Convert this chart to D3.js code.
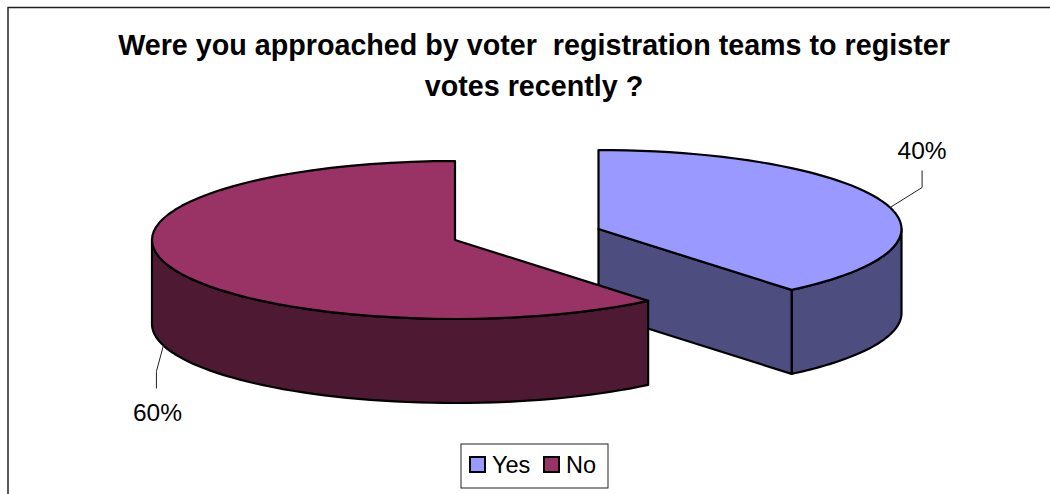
<!DOCTYPE html>
<html>
<head>
<meta charset="utf-8">
<script src="https://cdn.jsdelivr.net/npm/d3@7/dist/d3.min.js"></script>
<style>
  html, body { margin: 0; padding: 0; background: #fff; }
  svg { display: block; }
  text { font-family: "Liberation Sans", Arial, sans-serif; fill: #000; }
</style>
</head>
<body>
<svg id="chart" width="1050" height="494"></svg>
<script>
// Survey responses
const categories = ["Yes", "No"];
const shares = [40, 60];
const shareLabels = ["40%", "60%"];
const titleLines = [
  "Were you approached by voter  registration teams to register",
  "votes recently ?"
];

const topColors = ["#9999FF", "#993366"];
const sideColors = ["#4D4D80", "#4D1933"];

const svg = d3.select("#chart");

// Disc proportions of the tilted pie
const rx = 303, ry = 79, depth = 84;
const tilt = 0.066;            // foreshortening of angles on the tilted plane
const centers = [[598.5, 229], [455, 240]];  // each slice is pulled away from the other

// Chart frame, open on the right
svg.append("path")
  .attr("d", "M8,494V7.5H1050")
  .attr("fill", "none").attr("stroke", "#222").attr("stroke-width", 1.5);

// Title
svg.append("g").selectAll("text").data(titleLines).join("text")
  .attr("x", 534).attr("y", (d, i) => 55 + i * 41)
  .attr("text-anchor", "middle")
  .attr("font-size", 28.7).attr("font-weight", "bold")
  .attr("xml:space", "preserve").style("white-space", "pre")
  .text(d => d);

const arcs = d3.pie().sort(null).value(d => d)(shares);

// Projects a pie angle (clockwise from 12 o'clock) onto the disc plane
function project(angle, i, drop = 0) {
  const a = angle + tilt * Math.sin(2 * angle);
  return [centers[i][0] + rx * Math.sin(a), centers[i][1] - ry * Math.cos(a) + drop];
}

const line = d3.line();
const angleSteps = (a0, a1) => d3.range(0, 61).map(k => a0 + (a1 - a0) * k / 60);

// Draw order puts the Yes slice behind the No slice
arcs.forEach((arc, i) => {
  const g = svg.append("g");
  const center = centers[i];
  const style = (sel, fill) => sel.attr("fill", fill)
    .attr("stroke", "#000").attr("stroke-width", 2.2).attr("stroke-linejoin", "round");

  // Rim: only the part of the edge facing the viewer (lower half of the ellipse)
  const rimStart = Math.max(arc.startAngle, Math.PI / 2);
  const rimEnd = Math.min(arc.endAngle, 3 * Math.PI / 2);
  const steps = angleSteps(rimStart, rimEnd);
  const rim = steps.map(a => project(a, i)).concat(steps.slice().reverse().map(a => project(a, i, depth)));
  style(g.append("path").attr("d", line(rim) + "Z"), sideColors[i]);

  // Cut face that looks toward the viewer on the Yes slice
  if (arc.startAngle === 0) {
    const end = project(arc.endAngle, i);
    const face = [center, end, [end[0], end[1] + depth], [center[0], center[1] + depth]];
    style(g.append("path").attr("d", line(face) + "Z"), sideColors[i]);
  }

  // Top of the slice
  const outline = [center].concat(angleSteps(arc.startAngle, arc.endAngle).map(a => project(a, i)));
  style(g.append("path").attr("d", line(outline) + "Z"), topColors[i]);
});

// Percentage labels with elbow leaders from the middle of each slice's edge
const leaderSpecs = [
  { drop: 0, elbow: [32, -20], run: -17, label: [0, -29] },
  { drop: depth, elbow: [-7, 26], run: 17, label: [1, 50] }
];
arcs.forEach((arc, i) => {
  const mid = (arc.startAngle + arc.endAngle) / 2;
  const s = leaderSpecs[i];
  const p0 = project(mid, i, s.drop);
  const p1 = [p0[0] + s.elbow[0], p0[1] + s.elbow[1]];
  const p2 = [p1[0], p1[1] + s.run];
  svg.append("path").attr("d", line([p0, p1, p2]))
    .attr("fill", "none").attr("stroke", "#222").attr("stroke-width", 1);
  svg.append("text")
    .attr("x", p1[0] + s.label[0]).attr("y", p1[1] + s.label[1])
    .attr("text-anchor", "middle").attr("font-size", 24.5)
    .text(shareLabels[i]);
});

// Legend
const legend = svg.append("g");
legend.append("rect")
  .attr("x", 461).attr("y", 444).attr("width", 147).attr("height", 44)
  .attr("fill", "#fff").attr("stroke", "#222").attr("stroke-width", 1);
const legendX = d3.scalePoint().domain(categories).range([470, 544]);
categories.forEach((c, i) => {
  legend.append("rect")
    .attr("x", legendX(c)).attr("y", 457).attr("width", 15).attr("height", 15)
    .attr("fill", topColors[i]).attr("stroke", "#000").attr("stroke-width", 2);
  legend.append("text")
    .attr("x", legendX(c) + 22).attr("y", 473).attr("font-size", 23.5)
    .text(c);
});
</script>
</body>
</html>
